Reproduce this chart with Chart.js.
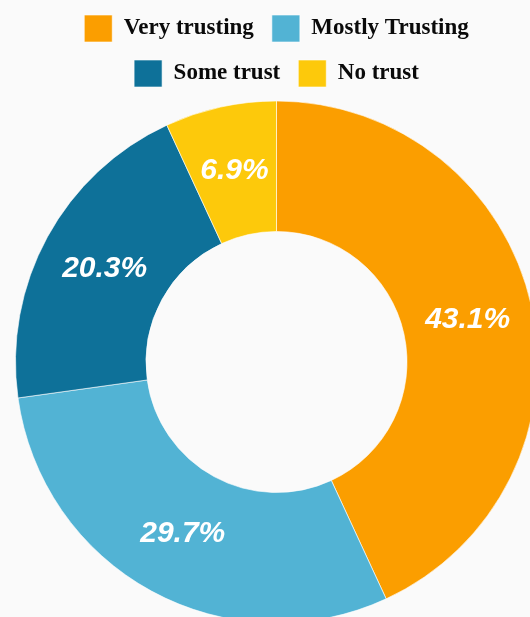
<!DOCTYPE html>
<html>
<head>
<meta charset="utf-8">
<script src="https://cdn.jsdelivr.net/npm/chart.js@4/dist/chart.umd.min.js"></script>
<style>
  html, body { margin: 0; padding: 0; overflow: hidden; background: #fafafa; width: 530px; height: 617px; }
  #wrap { position: absolute; left: 0; top: -3px; width: 538px; height: 630px; }
</style>
</head>
<body>
<div id="wrap"><canvas id="chart"></canvas></div>
<script>
const categories = ['Very trusting', 'Mostly Trusting', 'Some trust', 'No trust'];
const shares = [43.1, 29.7, 20.3, 6.9];
const colors = ['#fb9e00', '#52b3d4', '#0e7199', '#fdc90b'];

// Writes each slice's share in the middle of its ring segment
const sliceLabels = {
  id: 'sliceLabels',
  afterDatasetsDraw(chart) {
    const ctx = chart.ctx;
    const meta = chart.getDatasetMeta(0);
    ctx.save();
    ctx.font = 'italic bold 30px "Liberation Sans", Arial, sans-serif';
    ctx.fillStyle = '#ffffff';
    ctx.textAlign = 'center';
    ctx.textBaseline = 'middle';
    meta.data.forEach((arc, i) => {
      const p = arc.tooltipPosition();
      ctx.fillText(shares[i].toFixed(1) + '%', p.x, p.y);
    });
    ctx.restore();
  }
};

new Chart(document.getElementById('chart'), {
  type: 'doughnut',
  data: {
    labels: categories,
    datasets: [{
      data: shares,
      backgroundColor: colors,
      borderColor: 'rgba(255,255,255,0.6)',
      borderWidth: 1
    }]
  },
  options: {
    responsive: true,
    maintainAspectRatio: false,
    animation: false,
    cutout: '50%',
    layout: { padding: { left: 15, right: 0, top: 0, bottom: 0 } },
    plugins: {
      tooltip: { enabled: false },
      legend: {
        position: 'top',
        labels: {
          boxWidth: 28,
          boxHeight: 27,
          padding: 18,
          color: '#0a0a0a',
          font: { family: '"Liberation Serif", "Times New Roman", serif', size: 23, weight: 'bold' }
        }
      }
    }
  },
  plugins: [sliceLabels]
});
</script>
</body>
</html>
